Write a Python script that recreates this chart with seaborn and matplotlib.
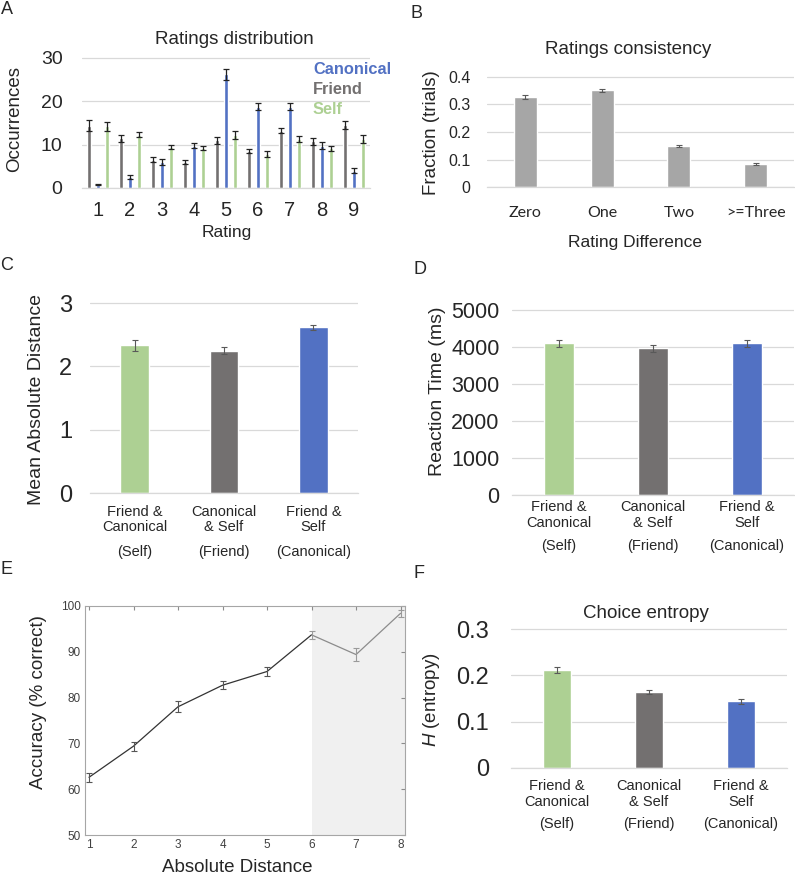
import matplotlib
matplotlib.use("Agg")
import matplotlib.pyplot as plt
import matplotlib.transforms as mtransforms
import numpy as np
import pandas as pd
import seaborn as sns

W, H = 795, 877

# ---------------- data ----------------
ratings = [1, 2, 3, 4, 5, 6, 7, 8, 9]
sources = ["Friend", "Canonical", "Self"]
friend_counts = [14.4, 11.5, 6.5, 6.0, 11.0, 8.5, 13.2, 10.8, 14.6]
canonical_counts = [0.8, 2.5, 6.0, 9.8, 26.2, 18.8, 18.8, 9.8, 4.0]
self_counts = [14.2, 12.3, 9.5, 9.2, 12.3, 7.9, 11.3, 9.2, 11.3]
friend_err = [1.2, 0.8, 0.6, 0.5, 0.8, 0.5, 0.6, 0.8, 0.9]
canonical_err = [0.2, 0.4, 0.8, 0.6, 1.3, 0.9, 0.9, 0.8, 0.6]
self_err = [1.0, 0.6, 0.4, 0.5, 0.9, 0.7, 0.6, 0.6, 1.0]

consistency_labels = ["Zero", "One", "Two", ">=Three"]
consistency = [0.327, 0.352, 0.148, 0.085]
consistency_err = [0.008, 0.005, 0.004, 0.004]

pair_labels = ["Friend &\nCanonical", "Canonical\n& Self", "Friend &\nSelf"]
pair_notes = ["(Self)", "(Friend)", "(Canonical)"]
mean_abs_dist = [2.33, 2.25, 2.62]
mean_abs_err = [0.09, 0.06, 0.04]
reaction_time = [4100, 3965, 4100]
reaction_err = [100, 90, 90]
entropy = [0.212, 0.164, 0.144]
entropy_err = [0.007, 0.005, 0.005]

abs_distance = [1, 2, 3, 4, 5, 6, 7, 8]
accuracy = [62.6, 69.4, 78.0, 82.7, 85.7, 93.7, 89.4, 98.4]
accuracy_err = [1.0, 1.0, 1.2, 0.9, 1.0, 0.8, 1.5, 0.8]

BLUE, GRAY, GREEN = "#5271C3", "#737070", "#ADD093"
pair_colors = [GREEN, GRAY, BLUE]

# ---------------- style ----------------
sns.set_style("white")
plt.rcParams["font.family"] = ["Liberation Sans", "DejaVu Sans"]
plt.rcParams["mathtext.fontset"] = "custom"
plt.rcParams["mathtext.it"] = "Liberation Sans:italic"
plt.rcParams["mathtext.rm"] = "Liberation Sans"

fig = plt.figure(figsize=(W / 100, H / 100), dpi=100)


def fx(x):
    return x / W


def fy(y):
    return 1 - y / H


def bar_axes(x0, x1, ytop, y0, ymax):
    # axes whose top gridline (ymax) sits at pixel ytop, zero at y0
    ax = fig.add_axes([fx(x0), fy(y0), (x1 - x0) / W, (y0 - ytop + 2) / H])
    ax.set_ylim(0, ymax * (1 + 2 / (y0 - ytop)))
    return ax


def excel_style(ax, ysize, ypad, yticks):
    sns.despine(ax=ax, left=True, top=True, right=True)
    ax.spines["bottom"].set_color("#D9D9D9")
    ax.spines["bottom"].set_linewidth(0.9)
    ax.yaxis.grid(True, color="#D9D9D9", lw=0.9)
    ax.set_axisbelow(True)
    ax.set_yticks(yticks)
    ax.tick_params(length=0)
    ax.tick_params(axis="y", labelsize=ysize, pad=ypad)
    ax.set_xlabel("")
    ax.set_ylabel("")


def add_errors(ax, errs, color, capsize=2.0, lw=0.9):
    bars = sorted(ax.patches, key=lambda p: p.get_x())
    xs = [p.get_x() + p.get_width() / 2 for p in bars]
    ys = [p.get_height() for p in bars]
    ax.errorbar(xs, ys, yerr=errs, fmt="none", ecolor=color,
                elinewidth=lw, capsize=capsize, capthick=lw)


def ylabel_at(ax, text, x, y, size):
    ax.set_ylabel(text, fontsize=size)
    ax.yaxis.label.set_va("center")
    ax.yaxis.set_label_coords(fx(x), fy(y), transform=fig.transFigure)


def pair_ticks(ax, pad, note_y):
    ax.set_xticks(range(len(pair_labels)))
    ax.set_xticklabels(pair_labels, fontsize=10.5, linespacing=1.15)
    ax.tick_params(axis="x", pad=pad)
    tr = mtransforms.blended_transform_factory(ax.transData, fig.transFigure)
    for i, note in enumerate(pair_notes):
        ax.text(i, fy(note_y), note, transform=tr, ha="center", va="center",
                fontsize=10.5)


def letter(t, x, y):
    fig.text(fx(x), fy(y), t, fontsize=13, ha="center", va="center")


# ---------------- A: ratings distribution ----------------
dfA = pd.DataFrame({
    "rating": ratings * 3,
    "source": ["Friend"] * 9 + ["Canonical"] * 9 + ["Self"] * 9,
    "count": friend_counts + canonical_counts + self_counts,
})
axA = bar_axes(82, 370, 58, 188, 30)
sns.barplot(data=dfA, x="rating", y="count", hue="source", hue_order=sources,
            palette=[GRAY, BLUE, GREEN], width=0.84, gap=0.57, saturation=1,
            errorbar=None, legend=False, ax=axA)
errA = []
for f, c, s in zip(friend_err, canonical_err, self_err):
    errA += [f, c, s]
add_errors(axA, errA, "#222222", capsize=2.0, lw=0.9)
excel_style(axA, 14, 14, [0, 10, 20, 30])
axA.set_xlim(-0.5, 8.5)
axA.tick_params(axis="x", labelsize=14.5, pad=9)
ylabel_at(axA, "Occurrences", 15, 119, 13.5)
fig.text(fx(234), fy(40), "Ratings distribution", fontsize=13.5, ha="center", va="center")
fig.text(fx(227), fy(233), "Rating", fontsize=12.5, ha="center", va="center")
for name, col, yy in [("Canonical", BLUE, 70), ("Friend", GRAY, 89), ("Self", GREEN, 110)]:
    fig.text(fx(313), fy(yy), name, color=col, fontsize=11.8, fontweight="bold",
             ha="left", va="center")

# ---------------- B: ratings consistency ----------------
axB = bar_axes(487, 794, 77, 187, 0.4)
sns.barplot(x=consistency_labels, y=consistency, color="#A6A6A6", width=0.3,
            saturation=1, errorbar=None, ax=axB)
add_errors(axB, consistency_err, "#595959", capsize=2.0, lw=0.8)
excel_style(axB, 11.5, 12, [0, 0.1, 0.2, 0.3, 0.4])
axB.set_yticklabels(["0", "0.1", "0.2", "0.3", "0.4"])
axB.set_xlim(-0.5, 3.5)
for lab in axB.get_xticklabels():
    lab.set_fontfamily(["Lato", "DejaVu Sans"])
    lab.set_fontsize(11.5)
axB.tick_params(axis="x", pad=14)
ylabel_at(axB, "Fraction (trials)", 432, 133, 13.5)
fig.text(fx(628), fy(50), "Ratings consistency", fontsize=13.5, ha="center", va="center")
fig.text(fx(635), fy(243), "Rating Difference", fontsize=12.5, ha="center", va="center")

# ---------------- C: mean absolute distance ----------------
axC = bar_axes(90, 358, 303, 493, 3)
sns.barplot(x=pair_labels, y=mean_abs_dist, hue=pair_labels, palette=pair_colors,
            width=0.32, saturation=1, errorbar=None, legend=False, ax=axC)
add_errors(axC, mean_abs_err, "#595959", capsize=2.5, lw=0.8)
excel_style(axC, 17, 13, [0, 1, 2, 3])
axC.set_xlim(-0.5, 2.5)
pair_ticks(axC, 8.5, 552)
ylabel_at(axC, "Mean Absolute Distance", 37, 400, 14)

# ---------------- D: reaction time ----------------
axD = bar_axes(512, 794, 310, 495, 5000)
sns.barplot(x=pair_labels, y=reaction_time, hue=pair_labels, palette=pair_colors,
            width=0.32, saturation=1, errorbar=None, legend=False, ax=axD)
add_errors(axD, reaction_err, "#595959", capsize=2.5, lw=0.8)
excel_style(axD, 15.5, 9, [0, 1000, 2000, 3000, 4000, 5000])
axD.set_xlim(-0.5, 2.5)
pair_ticks(axD, 3.5, 546)
ylabel_at(axD, "Reaction Time (ms)", 437, 391, 14)

# ---------------- E: accuracy vs distance ----------------
axE = fig.add_axes([fx(85), fy(835), (405 - 85) / W, (835 - 606) / H])
axE.axvspan(6, 8.1, color="#F0F0F0", lw=0, zorder=0)
sns.lineplot(x=abs_distance[:6], y=accuracy[:6], color="#333333", lw=0.9, ax=axE)
sns.lineplot(x=abs_distance[5:], y=accuracy[5:], color="#8C8C8C", lw=0.9, ax=axE)
axE.errorbar(abs_distance[:5], accuracy[:5], yerr=accuracy_err[:5], fmt="none",
             ecolor="#555555", elinewidth=0.8, capsize=2, capthick=0.8)
axE.errorbar(abs_distance[5:], accuracy[5:], yerr=accuracy_err[5:], fmt="none",
             ecolor="#9A9A9A", elinewidth=0.8, capsize=2, capthick=0.8)
axE.set_xlim(0.91, 8.1)
axE.set_ylim(50, 100)
axE.set_xticks(abs_distance)
axE.set_yticks([50, 60, 70, 80, 90, 100])
for s in axE.spines.values():
    s.set_visible(True)
    s.set_color("#A6A6A6")
    s.set_linewidth(0.8)
axE.tick_params(direction="in", length=3, top=True, right=True, labelsize=8.5,
                labelcolor="#404040", color="#8C8C8C", pad=3)
axE.set_xlabel("")
ylabel_at(axE, "Accuracy (% correct)", 39, 702, 13.5)
fig.text(fx(237), fy(868), "Absolute Distance", fontsize=13.5, ha="center", va="center")

# ---------------- F: choice entropy ----------------
axF = bar_axes(511, 787, 629, 768, 0.3)
sns.barplot(x=pair_labels, y=entropy, hue=pair_labels, palette=pair_colors,
            width=0.31, saturation=1, errorbar=None, legend=False, ax=axF)
add_errors(axF, entropy_err, "#595959", capsize=2.5, lw=0.8)
excel_style(axF, 17, 16, [0, 0.1, 0.2, 0.3])
axF.set_yticklabels(["0", "0.1", "0.2", "0.3"])
axF.set_xlim(-0.5, 2.5)
pair_ticks(axF, 8, 824)
ylabel_at(axF, "$\\mathit{H}$ (entropy)", 432, 700, 13.5)
fig.text(fx(646), fy(613), "Choice entropy", fontsize=13.5, ha="center", va="center")

# panel letters
letter("A", 7, 9)
letter("B", 417, 13)
letter("C", 7, 265)
letter("D", 420, 270)
letter("E", 7, 570)
letter("F", 419, 574)

fig.savefig("out.png", dpi=100)
